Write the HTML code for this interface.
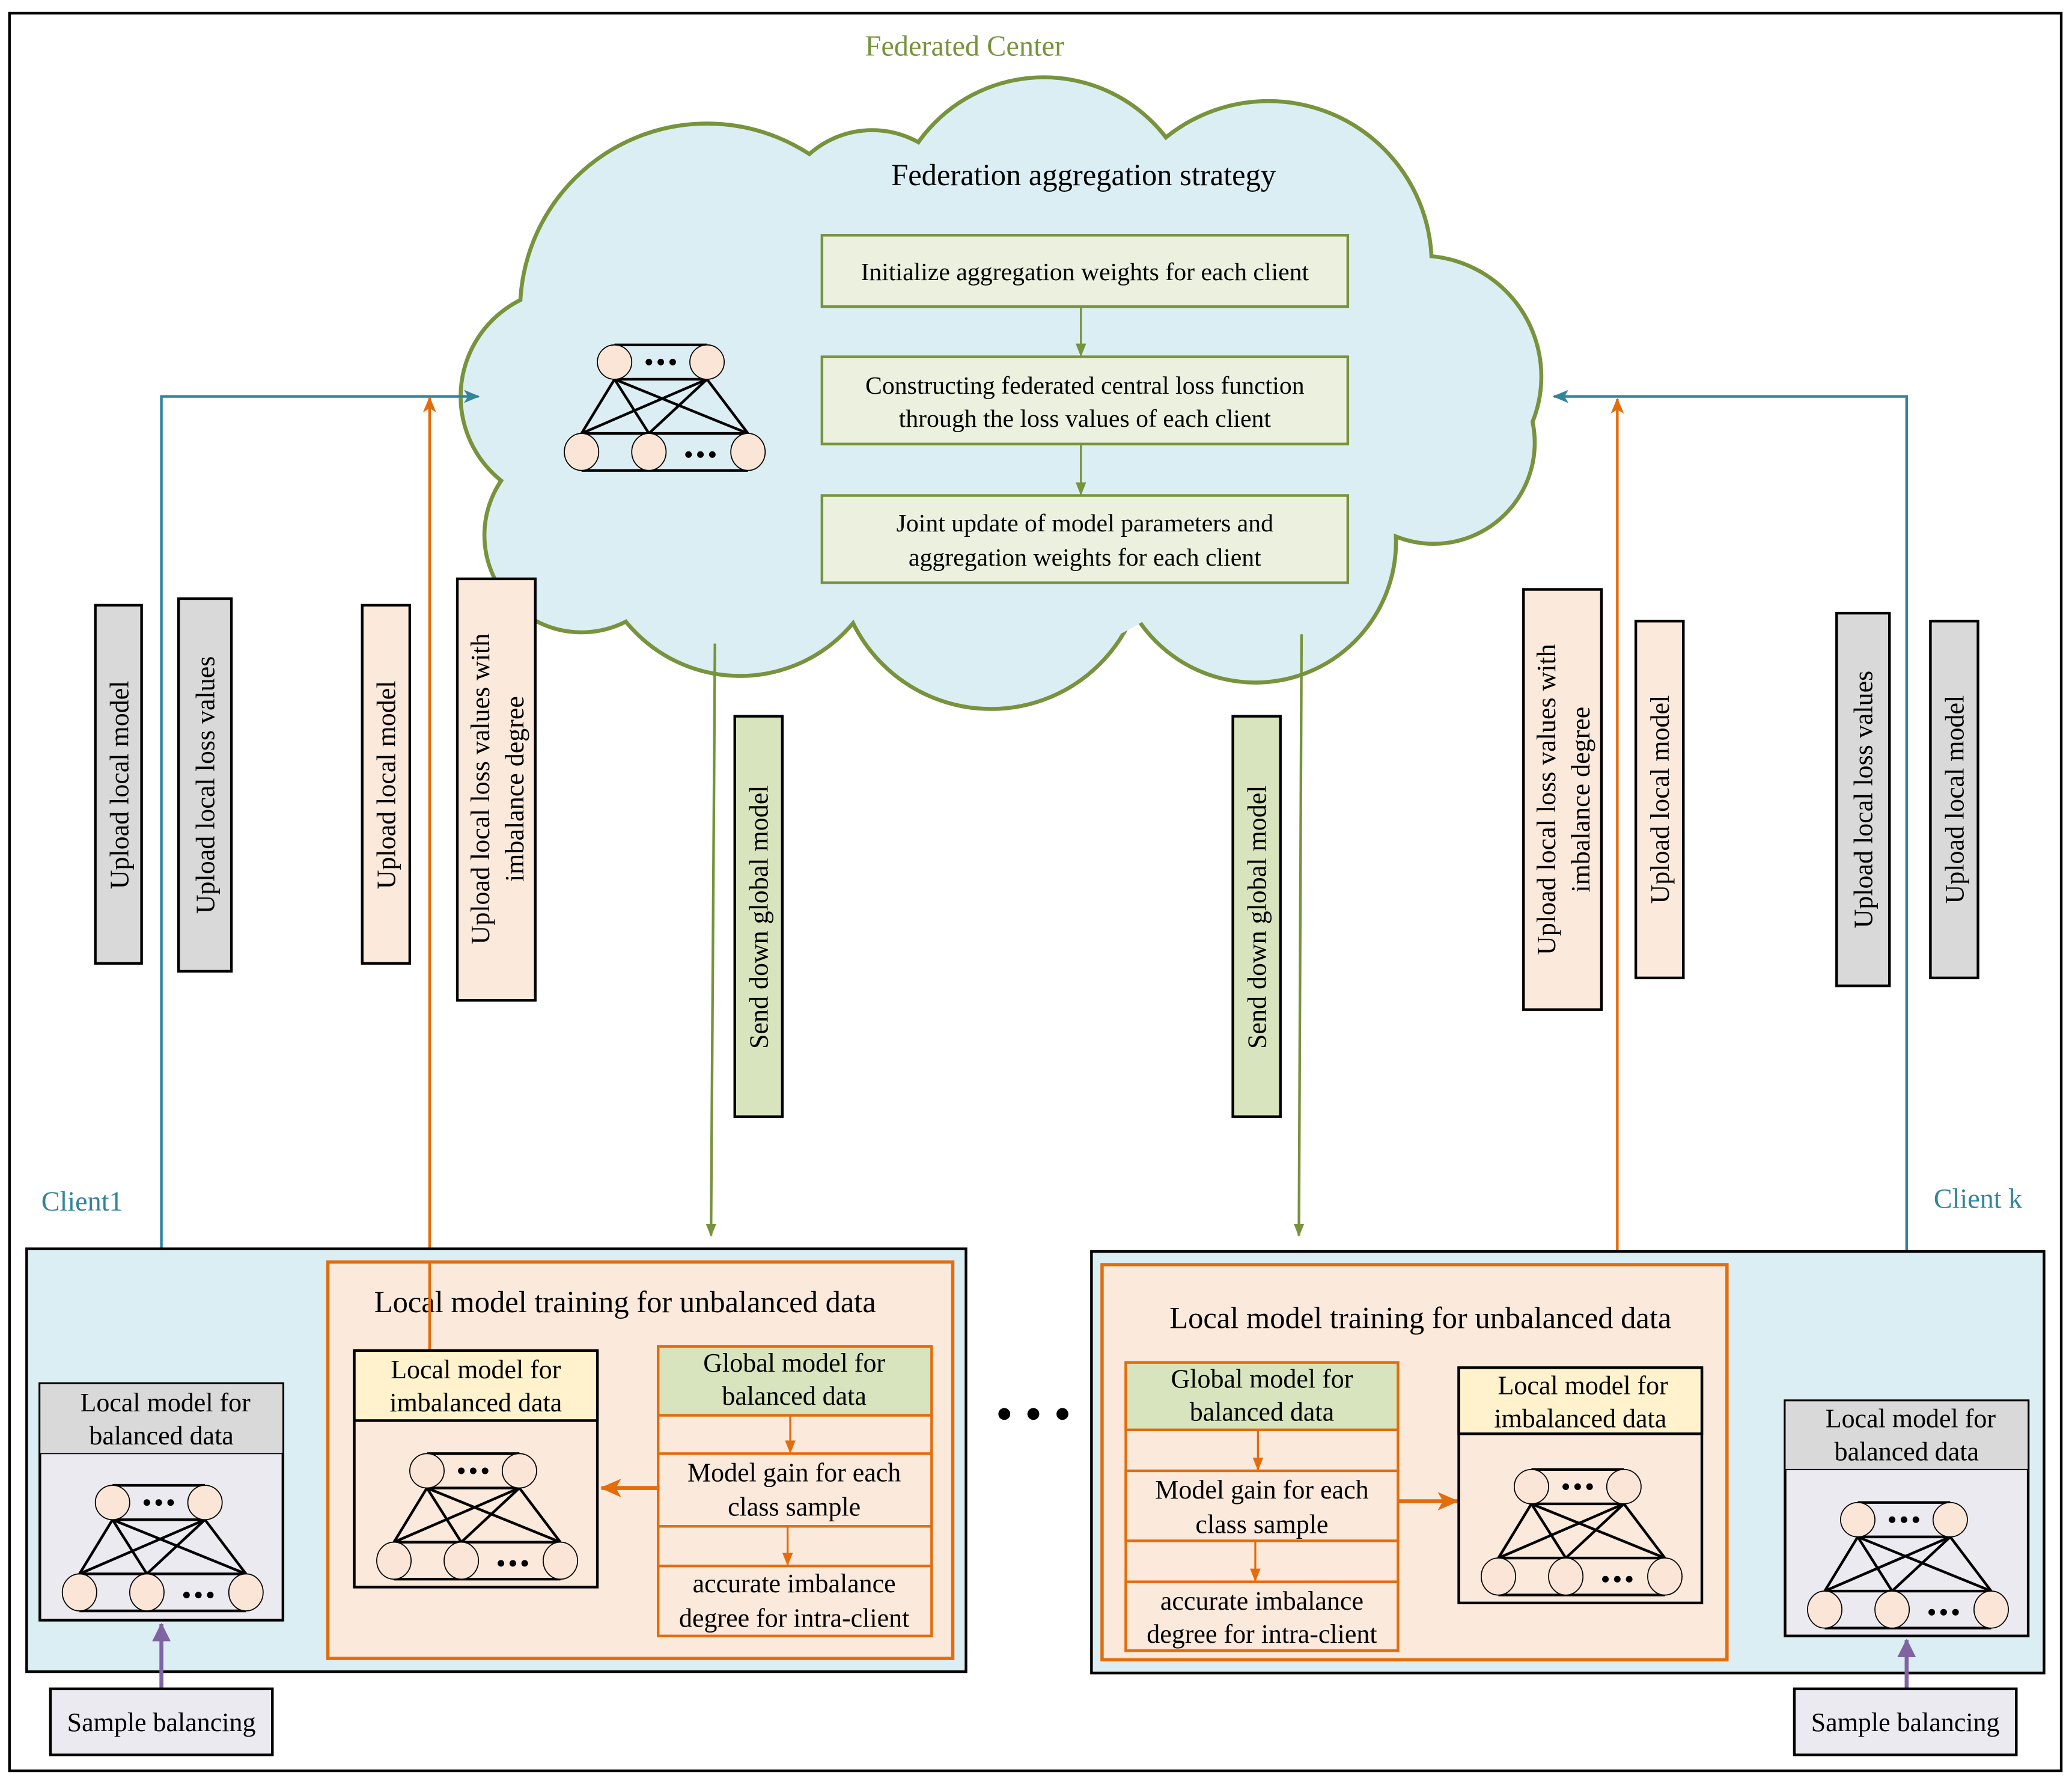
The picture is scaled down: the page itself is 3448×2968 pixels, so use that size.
<!DOCTYPE html>
<html><head><meta charset="utf-8"><style>html,body{margin:0;padding:0;background:#fff}svg{display:block}svg text{font-family:"Liberation Serif","Times New Roman",Times,serif}</style></head><body>
<svg width="3448" height="2968" viewBox="0 0 1568 1350" xmlns="http://www.w3.org/2000/svg">
<defs>
<g id="net">
 <line x1="40" y1="1" x2="110" y2="1" stroke="#000" stroke-width="2"/>
 <line x1="40" y1="27" x2="110" y2="27" stroke="#000" stroke-width="2"/>
 <line x1="15" y1="68" x2="141" y2="68" stroke="#000" stroke-width="2"/>
 <line x1="15" y1="96" x2="141" y2="96" stroke="#000" stroke-width="2"/>
 <g stroke="#000" stroke-width="2">
  <line x1="40" y1="27" x2="15" y2="68"/><line x1="40" y1="27" x2="66" y2="68"/><line x1="40" y1="27" x2="141" y2="68"/>
  <line x1="110" y1="27" x2="15" y2="68"/><line x1="110" y1="27" x2="66" y2="68"/><line x1="110" y1="27" x2="141" y2="68"/>
 </g>
 <g fill="#fbe5d6" stroke="#000" stroke-width="0.8">
  <ellipse cx="40" cy="14" rx="13" ry="13"/><ellipse cx="110" cy="14" rx="13" ry="13"/>
  <ellipse cx="15" cy="82" rx="13" ry="14"/><ellipse cx="66" cy="82" rx="13" ry="14"/><ellipse cx="141" cy="82" rx="13" ry="14"/>
 </g>
 <g fill="#000"><circle cx="66" cy="14" r="2.5"/><circle cx="75" cy="14" r="2.5"/><circle cx="84" cy="14" r="2.5"/>
 <circle cx="96" cy="84" r="2.5"/><circle cx="105" cy="84" r="2.5"/><circle cx="114" cy="84" r="2.5"/></g>
</g>
<marker id="ag" markerWidth="10" markerHeight="10" refX="9" refY="5" orient="auto" markerUnits="userSpaceOnUse"><path d="M0,1 L10,5 L0,9 Z" fill="#77933c"/></marker>
<marker id="at" markerWidth="12" markerHeight="12" refX="11" refY="6" orient="auto" markerUnits="userSpaceOnUse"><path d="M0,1 L12,6 L0,11 L3,6 Z" fill="#31849b"/></marker>
<marker id="ao" markerWidth="12" markerHeight="12" refX="11" refY="6" orient="auto" markerUnits="userSpaceOnUse"><path d="M0,1 L12,6 L0,11 L3,6 Z" fill="#e46c0a"/></marker>
<marker id="aos" markerWidth="10" markerHeight="10" refX="9" refY="5" orient="auto" markerUnits="userSpaceOnUse"><path d="M0,1 L10,5 L0,9 Z" fill="#e46c0a"/></marker>
<marker id="aob" markerWidth="16" markerHeight="16" refX="15" refY="8" orient="auto" markerUnits="userSpaceOnUse"><path d="M0,1 L16,8 L0,15 L4,8 Z" fill="#e46c0a"/></marker>
<marker id="ap" markerWidth="14" markerHeight="16" refX="13" refY="7" orient="auto" markerUnits="userSpaceOnUse"><path d="M0,0 L14,7 L0,14 Z" fill="#8064a2"/></marker>
</defs>
<rect x="7" y="10" width="1553" height="1330" fill="#fff" stroke="#000" stroke-width="2"/>
<text x="730" y="42" font-size="22" fill="#77933c" text-anchor="middle">Federated Center</text>

<g stroke="#77933c" stroke-width="6" fill="#77933c">
<circle cx="535" cy="235" r="140"/><circle cx="790" cy="175" r="115"/><circle cx="960" cy="200" r="122"/>
<circle cx="1075" cy="285" r="90"/><circle cx="430" cy="300" r="80"/><circle cx="440" cy="405" r="72"/>
<circle cx="560" cy="400" r="110"/><circle cx="750" cy="420" r="115"/><circle cx="950" cy="410" r="105"/><circle cx="1085" cy="335" r="75"/>
<circle cx="660" cy="170" r="70"/>
</g>
<g fill="#dbeef3">
<circle cx="535" cy="235" r="140"/><circle cx="790" cy="175" r="115"/><circle cx="960" cy="200" r="122"/>
<circle cx="1075" cy="285" r="90"/><circle cx="430" cy="300" r="80"/><circle cx="440" cy="405" r="72"/>
<circle cx="560" cy="400" r="110"/><circle cx="750" cy="420" r="115"/><circle cx="950" cy="410" r="105"/><circle cx="1085" cy="335" r="75"/>
<circle cx="660" cy="170" r="70"/>
<circle cx="760" cy="300" r="200"/>
</g>
<text x="820" y="140" font-size="23" text-anchor="middle">Federation aggregation strategy</text>
<g fill="#ebf1de" stroke="#77933c" stroke-width="2">
<rect x="622" y="178" width="398" height="54"/><rect x="622" y="270" width="398" height="66"/><rect x="622" y="375" width="398" height="66"/>
</g>
<g font-size="19" text-anchor="middle">
<text x="821" y="212">Initialize aggregation weights for each client</text>
<text x="821" y="298">Constructing  federated central loss function</text>
<text x="821" y="323">through the loss values of  each client</text>
<text x="821" y="402">Joint update of model parameters and</text>
<text x="821" y="428">aggregation weights for each client</text>
</g>
<line x1="818" y1="232" x2="818" y2="269" stroke="#77933c" stroke-width="1.5" marker-end="url(#ag)"/>
<line x1="818" y1="336" x2="818" y2="374" stroke="#77933c" stroke-width="1.5" marker-end="url(#ag)"/>
<use href="#net" x="425" y="260"/>

<polyline points="122,1048 122,300 362,300" fill="none" stroke="#31849b" stroke-width="2" marker-end="url(#at)"/>
<polyline points="1443,1060 1443,300 1176,300" fill="none" stroke="#31849b" stroke-width="2" marker-end="url(#at)"/>
<line x1="325" y1="1022" x2="325" y2="301" stroke="#e46c0a" stroke-width="2" marker-end="url(#ao)"/>
<line x1="1224" y1="1035" x2="1224" y2="302" stroke="#e46c0a" stroke-width="2" marker-end="url(#ao)"/>
<line x1="541" y1="487" x2="538" y2="935" stroke="#77933c" stroke-width="2" marker-end="url(#ag)"/>
<line x1="985" y1="480" x2="983" y2="935" stroke="#77933c" stroke-width="2" marker-end="url(#ag)"/>

<g stroke="#000" stroke-width="2">
<rect x="72" y="458" width="35" height="271" fill="#d9d9d9"/>
<rect x="135" y="453" width="40" height="282" fill="#d9d9d9"/>
<rect x="274" y="458" width="36" height="271" fill="#fbe9db"/>
<rect x="346" y="438" width="59" height="319" fill="#fbe9db"/>
<rect x="556" y="542" width="36" height="303" fill="#d7e4bd"/>
<rect x="933" y="542" width="36" height="303" fill="#d7e4bd"/>
<rect x="1153" y="446" width="59" height="318" fill="#fbe9db"/>
<rect x="1238" y="470" width="36" height="270" fill="#fbe9db"/>
<rect x="1390" y="464" width="40" height="282" fill="#d9d9d9"/>
<rect x="1461" y="470" width="36" height="270" fill="#d9d9d9"/>
</g>
<g font-size="20" text-anchor="middle">
<text transform="translate(97,594) rotate(-90)">Upload local model</text>
<text transform="translate(162,594) rotate(-90)">Upload local loss values</text>
<text transform="translate(299,594) rotate(-90)">Upload local model</text>
<text transform="translate(370,597) rotate(-90)">Upload local loss values with</text>
<text transform="translate(396,597) rotate(-90)">imbalance degree</text>
<text transform="translate(581,694) rotate(-90)">Send down  global model</text>
<text transform="translate(958,694) rotate(-90)">Send down  global model</text>
<text transform="translate(1177,605) rotate(-90)">Upload local loss values with</text>
<text transform="translate(1203,605) rotate(-90)">imbalance degree</text>
<text transform="translate(1263,605) rotate(-90)">Upload local model</text>
<text transform="translate(1417,605) rotate(-90)">Upload local loss values</text>
<text transform="translate(1486,605) rotate(-90)">Upload local model</text>
</g>

<text x="62" y="916" font-size="21" fill="#31849b" text-anchor="middle">Client1</text>
<text x="1497" y="914" font-size="21" fill="#31849b" text-anchor="middle">Client k</text>

<rect x="20" y="945" width="711" height="320" fill="#dbeef3" stroke="#000" stroke-width="2"/>
<rect x="248" y="955" width="473" height="300" fill="#fbe9db" stroke="#e46c0a" stroke-width="2.5"/>
<text x="473" y="993" font-size="23" text-anchor="middle">Local model training for unbalanced data</text>
<line x1="325" y1="955" x2="325" y2="1022" stroke="#e46c0a" stroke-width="2"/>
<rect x="268" y="1022" width="184" height="179" fill="#fbe9db" stroke="#000" stroke-width="2"/>
<rect x="268" y="1022" width="184" height="53" fill="#fff2cc" stroke="#000" stroke-width="2"/>
<text x="360" y="1043" font-size="20" text-anchor="middle">Local model for</text>
<text x="360" y="1068" font-size="20" text-anchor="middle">imbalanced data</text>
<use href="#net" x="283" y="1099"/>
<g stroke="#e46c0a" stroke-width="2" fill="#fbe9db">
<rect x="498" y="1019" width="207" height="219"/>
<rect x="498" y="1019" width="207" height="52" fill="#d7e4bd"/>
<rect x="498" y="1100" width="207" height="55"/>
<rect x="498" y="1185" width="207" height="53"/>
</g>
<g font-size="20" text-anchor="middle">
<text x="601" y="1038">Global model for</text><text x="601" y="1063">balanced data</text>
<text x="601" y="1121">Model gain for each</text><text x="601" y="1147">class sample</text>
<text x="601" y="1205">accurate imbalance</text><text x="601" y="1231">degree for intra-client</text>
</g>
<line x1="598" y1="1071" x2="598" y2="1099" stroke="#e46c0a" stroke-width="1.5" marker-end="url(#aos)"/>
<line x1="596" y1="1155" x2="596" y2="1184" stroke="#e46c0a" stroke-width="1.5" marker-end="url(#aos)"/>
<line x1="498" y1="1126" x2="455" y2="1126" stroke="#e46c0a" stroke-width="3" marker-end="url(#aob)"/>
<rect x="30" y="1047" width="184" height="179" fill="#eceaf1" stroke="#000" stroke-width="2"/>
<rect x="30" y="1047" width="184" height="53" fill="#d9d9d9" stroke="#000" stroke-width="0.8"/>
<line x1="30" y1="1226" x2="214" y2="1226" stroke="#000" stroke-width="2"/>
<text x="125" y="1068" font-size="20" text-anchor="middle">Local model for</text>
<text x="122" y="1093" font-size="20" text-anchor="middle">balanced data</text>
<use href="#net" x="45" y="1123"/>
<line x1="122" y1="1277" x2="122" y2="1229" stroke="#8064a2" stroke-width="3" marker-end="url(#ap)"/>
<rect x="38" y="1278" width="168" height="50" fill="#eceaf1" stroke="#000" stroke-width="2"/>
<text x="122" y="1310" font-size="20" text-anchor="middle">Sample balancing</text>

<g fill="#000"><circle cx="760" cy="1070" r="4.5"/><circle cx="782" cy="1070" r="4.5"/><circle cx="804" cy="1070" r="4.5"/></g>

<rect x="826" y="947" width="721" height="319" fill="#dbeef3" stroke="#000" stroke-width="2"/>
<rect x="834" y="957" width="473" height="299" fill="#fbe9db" stroke="#e46c0a" stroke-width="2.5"/>
<text x="1075" y="1005" font-size="23" text-anchor="middle">Local model training for unbalanced data</text>
<g stroke="#e46c0a" stroke-width="2" fill="#fbe9db">
<rect x="852" y="1031" width="206" height="218"/>
<rect x="852" y="1031" width="206" height="51" fill="#d7e4bd"/>
<rect x="852" y="1113" width="206" height="53"/>
<rect x="852" y="1197" width="206" height="52"/>
</g>
<g font-size="20" text-anchor="middle">
<text x="955" y="1050">Global model for</text><text x="955" y="1075">balanced data</text>
<text x="955" y="1134">Model gain for each</text><text x="955" y="1160">class sample</text>
<text x="955" y="1218">accurate imbalance</text><text x="955" y="1243">degree for intra-client</text>
</g>
<line x1="952" y1="1082" x2="952" y2="1112" stroke="#e46c0a" stroke-width="1.5" marker-end="url(#aos)"/>
<line x1="950" y1="1166" x2="950" y2="1196" stroke="#e46c0a" stroke-width="1.5" marker-end="url(#aos)"/>
<line x1="1058" y1="1136" x2="1103" y2="1136" stroke="#e46c0a" stroke-width="3" marker-end="url(#aob)"/>
<rect x="1104" y="1035" width="184" height="178" fill="#fbe9db" stroke="#000" stroke-width="2"/>
<rect x="1104" y="1035" width="184" height="50" fill="#fff2cc" stroke="#000" stroke-width="2"/>
<text x="1198" y="1055" font-size="20" text-anchor="middle">Local model for</text>
<text x="1196" y="1080" font-size="20" text-anchor="middle">imbalanced data</text>
<use href="#net" x="1119" y="1111"/>
<rect x="1351" y="1060" width="184" height="178" fill="#eceaf1" stroke="#000" stroke-width="2"/>
<rect x="1351" y="1060" width="184" height="52" fill="#d9d9d9" stroke="#000" stroke-width="0.8"/>
<line x1="1351" y1="1238" x2="1535" y2="1238" stroke="#000" stroke-width="2"/>
<text x="1446" y="1080" font-size="20" text-anchor="middle">Local model for</text>
<text x="1443" y="1105" font-size="20" text-anchor="middle">balanced data</text>
<use href="#net" x="1366" y="1136"/>
<line x1="1443" y1="1277" x2="1443" y2="1241" stroke="#8064a2" stroke-width="3" marker-end="url(#ap)"/>
<rect x="1358" y="1278" width="168" height="50" fill="#eceaf1" stroke="#000" stroke-width="2"/>
<text x="1442" y="1310" font-size="20" text-anchor="middle">Sample balancing</text>
</svg>
</body></html>
